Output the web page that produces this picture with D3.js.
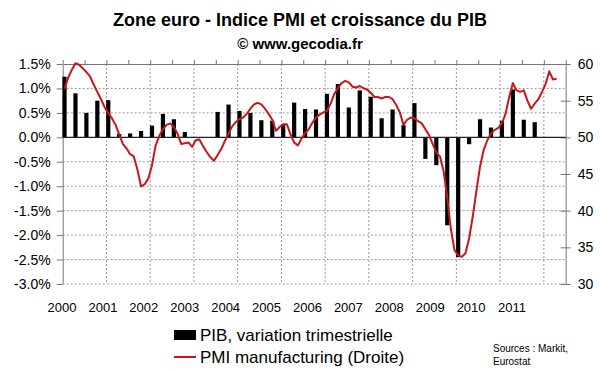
<!DOCTYPE html>
<html>
<head>
<meta charset="utf-8">
<script src="https://cdn.jsdelivr.net/npm/d3@7"></script>
<style>
body { margin: 0; background: #fff; }
text { font-family: "Liberation Sans", Arial, sans-serif; }
</style>
</head>
<body>
<div id="chart"></div>
<script>
// Data
const years = ['2000', '2001', '2002', '2003', '2004', '2005', '2006', '2007', '2008', '2009', '2010', '2011'];

// PIB, variation trimestrielle (%), from 2000 Q1
const pib = [
    1.24, 0.90, 0.50, 0.75,
    0.76, 0.07, 0.08, 0.13,
    0.24, 0.48, 0.37, 0.11,
    0.00, 0.00, 0.52, 0.67,
    0.54, 0.50, 0.35, 0.34,
    0.25, 0.71, 0.58, 0.57,
    0.89, 1.09, 0.61, 0.96,
    0.83, 0.39, 0.57, 0.25,
    0.70, -0.44, -0.57, -1.80,
    -2.45, -0.14, 0.37, 0.20,
    0.34, 0.98, 0.36, 0.31
];

// PMI manufacturing, monthly from Jan 2000
const pmi = [
    56.6, 58.1, 59.2, 60.1, 59.9, 59.4, 58.9, 58.3, 57.2, 56.2, 55.2, 54.1,
    53.3, 52.6, 51.7, 50.4, 49.1, 48.5, 47.7, 47.4, 45.6, 43.3, 43.6, 44.4,
    46.2, 48.9, 50.2, 51.1, 51.7, 51.9, 51.4, 50.5, 49.1, 49.2, 49.3, 48.7,
    49.6, 49.7, 48.8, 48.0, 47.3, 46.8, 47.6, 48.4, 49.5, 50.5, 51.5, 52.1,
    52.5, 52.7, 53.2, 53.9, 54.5, 54.7, 54.5, 53.9, 53.2, 52.4, 50.9, 51.4,
    51.8, 51.8, 50.4, 49.3, 48.9, 49.8, 50.6, 51.1, 52.0, 52.7, 53.1, 53.4,
    53.6, 54.6, 55.9, 56.7, 57.4, 57.7, 57.5, 56.9, 56.8, 57.0, 56.7, 56.5,
    56.1, 55.5, 55.5, 55.3, 55.5, 55.5, 55.2, 54.4, 53.4, 51.7, 52.4, 52.7,
    52.6, 52.2, 51.9, 51.1, 50.3, 49.1, 47.9, 47.4, 45.4, 41.8, 37.5, 34.6,
    33.9, 33.7, 34.2, 36.2, 39.2, 42.7, 46.0, 48.3, 49.6, 50.5, 51.0, 51.3,
    51.9, 53.2, 55.5, 57.4, 56.4, 56.2, 56.4, 55.0, 53.9, 54.6, 55.2, 56.2,
    57.3, 59.0, 57.9, 58.0
];

const pct_ticks = [1.5, 1.0, 0.5, 0.0, -0.5, -1.0, -1.5, -2.0, -2.5, -3.0];
const pmi_ticks = [60, 55, 50, 45, 40, 35, 30];

const chart_width = 600;
const chart_height = 372;
const plot_left = 62.7, plot_right = 565.7, plot_top = 64, plot_bottom = 284;
const grid_color = '#9a9a9a';
const red = '#c8161d';

// Scales
const x_scale = d3.scaleLinear()          // months since Jan 2000
    .domain([0, 138])
    .range([plot_left, plot_right]);

const y_scale = d3.scaleLinear()
    .domain([-3, 1.5])
    .range([plot_bottom, plot_top]);

const y2_scale = d3.scaleLinear()
    .domain([30, 60])
    .range([plot_bottom, plot_top]);

const label_scale = d3.scalePoint()
    .domain(years)
    .range([62, 512]);

// Create SVG Element
const svg = d3.select('#chart')
    .append('svg')
    .attr('width', chart_width)
    .attr('height', chart_height);

// Title
svg.append('text')
    .attr('x', 300).attr('y', 26)
    .attr('text-anchor', 'middle')
    .attr('font-size', 18).attr('font-weight', 'bold')
    .text('Zone euro - Indice PMI et croissance du PIB');

svg.append('text')
    .attr('x', 300).attr('y', 49)
    .attr('text-anchor', 'middle')
    .attr('font-size', 15).attr('font-weight', 'bold')
    .text('© www.gecodia.fr');

// Gridlines
svg.append('g')
    .selectAll('line')
    .data(pct_ticks.filter(d => d !== 0 && d !== 1.5))
    .enter()
    .append('line')
    .attr('x1', plot_left).attr('x2', plot_right)
    .attr('y1', d => y_scale(d)).attr('y2', d => y_scale(d))
    .attr('stroke', grid_color)
    .attr('stroke-dasharray', '2,2');

svg.append('g')
    .selectAll('line')
    .data(d3.range(12, 133, 12))
    .enter()
    .append('line')
    .attr('x1', d => x_scale(d)).attr('x2', d => x_scale(d))
    .attr('y1', plot_top).attr('y2', plot_bottom)
    .attr('stroke', grid_color)
    .attr('stroke-dasharray', '2,2');

// Top axis (half-year ticks)
const top_axis = svg.append('g')
    .attr('transform', `translate(0,${plot_top})`)
    .call(d3.axisTop(x_scale).tickValues(d3.range(0, 139, 6)).tickSize(4).tickSizeOuter(0).tickFormat(''));
top_axis.selectAll('path, line').attr('stroke', '#777');

// Left axis
const left_axis = svg.append('g')
    .attr('transform', `translate(${plot_left},0)`)
    .call(d3.axisLeft(y_scale).tickValues(pct_ticks).tickSize(6).tickPadding(6).tickSizeOuter(0)
        .tickFormat(d => d.toFixed(1) + '%'));
left_axis.selectAll('path, line').attr('stroke', '#777');
left_axis.selectAll('text').attr('font-size', 14).attr('fill', '#000')
    .attr('font-family', '"Liberation Sans", Arial, sans-serif');

// Right axis
const right_axis = svg.append('g')
    .attr('transform', `translate(${plot_right},0)`)
    .call(d3.axisRight(y2_scale).tickValues(pmi_ticks).tickSize(5).tickPadding(7).tickSizeOuter(0));
right_axis.selectAll('path, line').attr('stroke', '#777');
right_axis.selectAll('.tick line').attr('x1', -5);
right_axis.selectAll('text').attr('font-size', 14).attr('fill', '#000')
    .attr('font-family', '"Liberation Sans", Arial, sans-serif');

// Year labels
svg.append('g')
    .selectAll('text')
    .data(years)
    .enter()
    .append('text')
    .attr('x', d => label_scale(d))
    .attr('y', 312)
    .attr('text-anchor', 'middle')
    .attr('font-size', 13)
    .text(d => d);

// Create Rectangles (PIB)
svg.append('g')
    .selectAll('rect')
    .data(pib)
    .enter()
    .append('rect')
    .attr('x', (d, i) => x_scale(i * 3 + 0.5) - 2.1)
    .attr('width', 4.2)
    .attr('y', d => y_scale(Math.max(d, 0)))
    .attr('height', d => Math.abs(y_scale(d) - y_scale(0)))
    .attr('fill', '#000');

// Zero line
svg.append('line')
    .attr('x1', plot_left).attr('x2', plot_right)
    .attr('y1', y_scale(0)).attr('y2', y_scale(0))
    .attr('stroke', '#222')
    .attr('stroke-width', 1.2);

// PMI line
const line = d3.line()
    .x((d, i) => x_scale(i + 0.5))
    .y(d => y2_scale(d));

svg.append('path')
    .datum(pmi)
    .attr('d', line)
    .attr('fill', 'none')
    .attr('stroke', red)
    .attr('stroke-width', 2)
    .attr('stroke-linejoin', 'round');

// Legend
svg.append('rect')
    .attr('x', 174).attr('y', 330)
    .attr('width', 22).attr('height', 10)
    .attr('fill', '#000');
svg.append('text')
    .attr('x', 200).attr('y', 341)
    .attr('font-size', 17)
    .text('PIB, variation trimestrielle');

svg.append('line')
    .attr('x1', 174).attr('x2', 196)
    .attr('y1', 357).attr('y2', 357)
    .attr('stroke', red).attr('stroke-width', 2);
svg.append('text')
    .attr('x', 200).attr('y', 363)
    .attr('font-size', 17)
    .text('PMI manufacturing (Droite)');

// Sources
svg.append('text')
    .attr('x', 493).attr('y', 352)
    .attr('font-size', 10)
    .text('Sources : Markit,');
svg.append('text')
    .attr('x', 493).attr('y', 365)
    .attr('font-size', 10)
    .text('Eurostat');
</script>
</body>
</html>
